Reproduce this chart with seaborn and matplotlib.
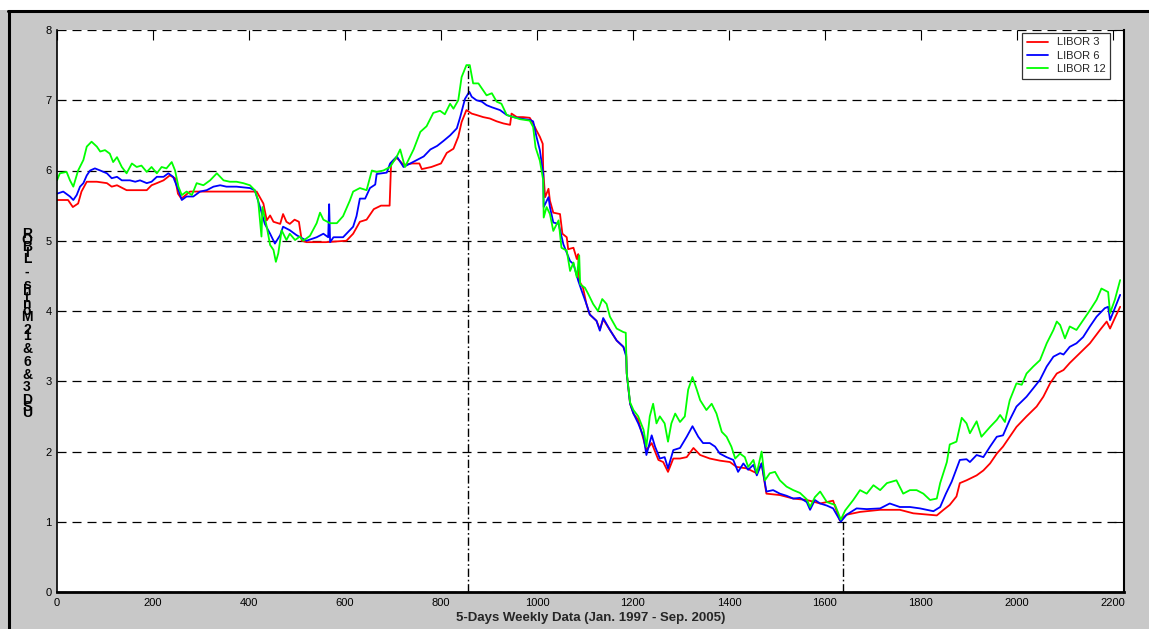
import matplotlib
matplotlib.use('Agg')
import matplotlib.pyplot as plt
import seaborn as sns
import pandas as pd
from matplotlib.lines import Line2D
from matplotlib.patches import Rectangle

# LIBOR series (x = day index, y = rate %)
red_x = [0, 23, 33, 44, 51, 62, 83, 104, 114, 125,
         145, 166, 187, 197, 208, 222, 235, 246, 252, 259,
         277, 416, 430, 437, 444, 451, 465, 471, 478, 485,
         495, 504, 510, 520, 560, 603, 617, 631, 645, 660,
         675, 693, 696, 708, 722, 740, 755, 760, 780, 800,
         812, 826, 836, 843, 853, 864, 874, 888, 902, 916,
         930, 944, 947, 958, 971, 985, 992, 999, 1006, 1012,
         1013, 1017, 1024, 1027, 1034, 1048, 1053, 1062, 1065, 1076,
         1083, 1086, 1088, 1096, 1103, 1110, 1124, 1131, 1138, 1152,
         1166, 1180, 1186, 1187, 1194, 1201, 1211, 1228, 1239, 1253,
         1263, 1273, 1284, 1298, 1312, 1326, 1340, 1360, 1381, 1402,
         1416, 1437, 1458, 1468, 1478, 1506, 1534, 1562, 1590, 1617,
         1631, 1645, 1673, 1715, 1756, 1784, 1833, 1847, 1860, 1874,
         1881, 1895, 1916, 1930, 1944, 1958, 1971, 1985, 1999, 2020,
         2041, 2055, 2069, 2083, 2097, 2110, 2131, 2152, 2173, 2187,
         2194, 2204, 2215]
red_y = [5.58, 5.58, 5.48, 5.53, 5.70, 5.84, 5.84, 5.82, 5.77, 5.79,
         5.72, 5.72, 5.72, 5.79, 5.82, 5.86, 5.93, 5.89, 5.67, 5.60,
         5.70, 5.70, 5.53, 5.29, 5.36, 5.27, 5.24, 5.38, 5.27, 5.24,
         5.30, 5.27, 5.00, 4.98, 4.98, 5.00, 5.10, 5.27, 5.30, 5.45,
         5.50, 5.50, 6.10, 6.18, 6.08, 6.10, 6.10, 6.02, 6.05, 6.10,
         6.25, 6.31, 6.48, 6.69, 6.86, 6.81, 6.79, 6.76, 6.74, 6.70,
         6.67, 6.65, 6.81, 6.76, 6.76, 6.75, 6.67, 6.57, 6.48, 6.38,
         6.00, 5.62, 5.74, 5.57, 5.40, 5.38, 5.10, 5.05, 4.88, 4.90,
         4.74, 4.81, 4.43, 4.33, 4.10, 3.95, 3.86, 3.74, 3.88, 3.73,
         3.58, 3.49, 3.38, 3.11, 2.68, 2.54, 2.45, 2.02, 2.12, 1.88,
         1.85, 1.71, 1.90, 1.90, 1.92, 2.05, 1.95, 1.90, 1.87, 1.85,
         1.78, 1.76, 1.69, 1.83, 1.40, 1.38, 1.33, 1.31, 1.26, 1.30,
         1.02, 1.10, 1.14, 1.17, 1.17, 1.12, 1.09, 1.17, 1.24, 1.36,
         1.55, 1.59, 1.66, 1.73, 1.83, 1.97, 2.07, 2.21, 2.35, 2.50,
         2.64, 2.78, 2.97, 3.11, 3.16, 3.26, 3.40, 3.54, 3.73, 3.85,
         3.75, 3.90, 4.06]

blue_x = [0, 13, 27, 34, 41, 48, 55, 62, 69, 79,
          90, 104, 114, 125, 135, 152, 163, 173, 187, 197,
          208, 222, 232, 242, 253, 260, 270, 284, 298, 312,
          326, 340, 353, 374, 402, 412, 423, 433, 444, 454,
          465, 471, 485, 499, 520, 541, 555, 565, 567, 569,
          576, 596, 603, 617, 624, 631, 642, 652, 663, 666,
          687, 694, 708, 722, 736, 750, 764, 778, 792, 805,
          819, 833, 840, 850, 859, 864, 874, 885, 895, 906,
          923, 937, 951, 965, 985, 992, 999, 1006, 1013, 1014,
          1024, 1027, 1034, 1045, 1055, 1069, 1076, 1086, 1093, 1103,
          1110, 1124, 1131, 1138, 1152, 1166, 1180, 1186, 1187, 1194,
          1201, 1211, 1222, 1228, 1239, 1246, 1256, 1266, 1273, 1284,
          1298, 1312, 1324, 1336, 1346, 1360, 1371, 1381, 1395, 1409,
          1419, 1430, 1440, 1451, 1458, 1468, 1478, 1492, 1506, 1520,
          1534, 1548, 1562, 1569, 1579, 1590, 1604, 1617, 1633, 1645,
          1666, 1687, 1715, 1735, 1756, 1777, 1798, 1826, 1840, 1852,
          1864, 1881, 1895, 1902, 1916, 1930, 1944, 1958, 1971, 1985,
          1999, 2020, 2034, 2048, 2062, 2076, 2090, 2097, 2110, 2124,
          2138, 2152, 2166, 2183, 2190, 2194, 2204, 2215]
blue_y = [5.67, 5.70, 5.63, 5.58, 5.65, 5.77, 5.82, 5.93, 6.00, 6.03,
          6.00, 5.96, 5.89, 5.91, 5.86, 5.86, 5.84, 5.86, 5.82, 5.84,
          5.91, 5.91, 5.96, 5.91, 5.72, 5.58, 5.63, 5.63, 5.70, 5.72,
          5.77, 5.79, 5.77, 5.77, 5.75, 5.72, 5.48, 5.24, 5.10, 4.96,
          5.08, 5.20, 5.15, 5.08, 5.00, 5.05, 5.10, 5.05, 5.52, 4.98,
          5.05, 5.05, 5.10, 5.20, 5.35, 5.60, 5.60, 5.75, 5.80, 5.95,
          5.97, 6.10, 6.20, 6.05, 6.10, 6.15, 6.20, 6.30, 6.35, 6.42,
          6.50, 6.60, 6.76, 7.02, 7.12, 7.05, 7.00, 6.98, 6.93, 6.90,
          6.86, 6.79, 6.76, 6.74, 6.72, 6.70, 6.48, 6.29, 5.95, 5.48,
          5.62, 5.48, 5.26, 5.24, 4.95, 4.71, 4.67, 4.43, 4.29, 4.10,
          3.95, 3.86, 3.72, 3.90, 3.73, 3.58, 3.49, 3.35, 3.11, 2.68,
          2.54, 2.40, 2.21, 1.95, 2.23, 2.07, 1.90, 1.92, 1.76, 2.02,
          2.05, 2.21, 2.36, 2.21, 2.12, 2.12, 2.07, 1.97, 1.92, 1.88,
          1.71, 1.83, 1.74, 1.81, 1.66, 1.83, 1.43, 1.45, 1.40, 1.37,
          1.33, 1.34, 1.28, 1.17, 1.31, 1.26, 1.23, 1.19, 1.00, 1.10,
          1.19, 1.18, 1.19, 1.26, 1.21, 1.21, 1.19, 1.15, 1.21, 1.40,
          1.57, 1.88, 1.89, 1.85, 1.95, 1.92, 2.07, 2.21, 2.23, 2.45,
          2.64, 2.78, 2.90, 3.02, 3.21, 3.35, 3.40, 3.38, 3.49, 3.54,
          3.63, 3.78, 3.92, 4.04, 4.06, 3.87, 4.04, 4.23]

green_x = [0, 6, 20, 27, 34, 44, 55, 62, 72, 83,
           90, 100, 110, 117, 125, 135, 145, 156, 166, 176,
           187, 197, 208, 218, 228, 239, 246, 253, 260, 270,
           281, 291, 305, 319, 333, 347, 360, 374, 388, 402,
           412, 419, 426, 428, 437, 444, 451, 456, 461, 468,
           478, 485, 496, 506, 513, 527, 541, 548, 555, 569,
           583, 596, 610, 617, 631, 645, 656, 666, 680, 694,
           708, 715, 725, 743, 757, 770, 784, 798, 808, 819,
           826, 836, 843, 853, 860, 867, 878, 888, 895, 906,
           916, 926, 937, 951, 965, 985, 992, 997, 1006, 1013,
           1014, 1020, 1027, 1034, 1045, 1051, 1062, 1069, 1076, 1083,
           1088, 1090, 1100, 1107, 1117, 1127, 1136, 1145, 1152, 1166,
           1180, 1185, 1187, 1194, 1201, 1211, 1222, 1228, 1235, 1242,
           1249, 1256, 1266, 1273, 1280, 1288, 1298, 1308, 1315, 1324,
           1333, 1340, 1353, 1364, 1374, 1385, 1395, 1405, 1413, 1423,
           1433, 1440, 1451, 1458, 1468, 1475, 1485, 1496, 1506, 1520,
           1534, 1548, 1562, 1569, 1579, 1590, 1604, 1621, 1633, 1642,
           1659, 1673, 1687, 1701, 1715, 1729, 1749, 1763, 1777, 1791,
           1805, 1819, 1833, 1840, 1854, 1860, 1874, 1885, 1895, 1902,
           1916, 1926, 1944, 1958, 1965, 1975, 1985, 1999, 2010, 2020,
           2034, 2048, 2062, 2076, 2083, 2090, 2100, 2110, 2124, 2138,
           2152, 2166, 2176, 2190, 2194, 2204, 2215]
green_y = [5.86, 5.96, 5.98, 5.86, 5.77, 6.00, 6.15, 6.34, 6.41, 6.34,
           6.27, 6.29, 6.24, 6.12, 6.19, 6.05, 5.96, 6.10, 6.05, 6.07,
           5.98, 6.05, 5.96, 6.05, 6.03, 6.12, 6.00, 5.77, 5.65, 5.70,
           5.65, 5.82, 5.79, 5.86, 5.96, 5.86, 5.84, 5.84, 5.82, 5.79,
           5.72, 5.58, 5.06, 5.48, 5.20, 4.94, 4.87, 4.70, 4.82, 5.15,
           5.01, 5.10, 5.01, 5.06, 5.00, 5.07, 5.25, 5.40, 5.30, 5.25,
           5.25, 5.35, 5.57, 5.70, 5.75, 5.72, 6.00, 5.98, 6.00, 6.05,
           6.20, 6.30, 6.05, 6.30, 6.55, 6.63, 6.82, 6.85, 6.80, 6.95,
           6.88, 7.00, 7.33, 7.50, 7.50, 7.24, 7.24, 7.14, 7.07, 7.10,
           6.98, 6.95, 6.79, 6.76, 6.73, 6.71, 6.62, 6.33, 6.14, 5.86,
           5.33, 5.48, 5.38, 5.14, 5.29, 4.90, 4.86, 4.57, 4.69, 4.48,
           4.79, 4.38, 4.33, 4.24, 4.10, 4.00, 4.17, 4.10, 3.92, 3.75,
           3.70, 3.69, 3.12, 2.70, 2.59, 2.50, 2.31, 2.07, 2.50, 2.68,
           2.40, 2.50, 2.40, 2.14, 2.40, 2.54, 2.42, 2.50, 2.88, 3.06,
           2.88, 2.73, 2.59, 2.68, 2.54, 2.28, 2.21, 2.07, 1.90, 1.97,
           1.92, 1.78, 1.88, 1.69, 2.00, 1.59, 1.69, 1.71, 1.59, 1.50,
           1.45, 1.41, 1.32, 1.21, 1.35, 1.43, 1.28, 1.24, 1.03, 1.16,
           1.31, 1.45, 1.40, 1.52, 1.45, 1.55, 1.59, 1.40, 1.45, 1.45,
           1.40, 1.31, 1.33, 1.55, 1.85, 2.10, 2.14, 2.48, 2.40, 2.26,
           2.43, 2.21, 2.35, 2.45, 2.52, 2.42, 2.73, 2.97, 2.95, 3.11,
           3.21, 3.30, 3.54, 3.73, 3.85, 3.80, 3.61, 3.78, 3.73, 3.87,
           4.01, 4.16, 4.32, 4.27, 3.97, 4.16, 4.44]

# dash-dot markers at the maximum and minimum
peak_x, peak_y = 857, 7.5
trough_x, trough_y = 1638, 1.0

series_names = ['LIBOR 3', 'LIBOR 6', 'LIBOR 12']
colors = {'LIBOR 3': '#ff0000', 'LIBOR 6': '#0000ff', 'LIBOR 12': '#00ff00'}
x_ticks = list(range(0, 2201, 200))
y_ticks = list(range(0, 9))
ylabel_text = "USD 3 & 6 & 12 Months - LIBOR"
xlabel_text = "5-Days Weekly Data (Jan. 1997 - Sep. 2005)"

sns.set_style('white')
plt.rcParams['font.family'] = ['Liberation Sans Narrow', 'Liberation Sans', 'DejaVu Sans']
plt.rcParams['lines.scale_dashes'] = False

df = pd.concat([
    pd.DataFrame({'day': red_x, 'rate': red_y, 'series': 'LIBOR 3'}),
    pd.DataFrame({'day': blue_x, 'rate': blue_y, 'series': 'LIBOR 6'}),
    pd.DataFrame({'day': green_x, 'rate': green_y, 'series': 'LIBOR 12'}),
], ignore_index=True)

W, H = 1149, 629
fig = plt.figure(figsize=(W / 100, H / 100), dpi=100, facecolor='#c8c8c8')

# window frame
fig.add_artist(Rectangle((0, 1 - 10 / H), 1, 10 / H, transform=fig.transFigure,
                         facecolor='white', edgecolor='none'))
fig.add_artist(Line2D([8 / W, 1], [1 - 11 / H, 1 - 11 / H], transform=fig.transFigure,
                      color='black', lw=2.2))
fig.add_artist(Line2D([9 / W, 9 / W], [0, 1 - 11 / H], transform=fig.transFigure,
                      color='black', lw=2.2))

ax = fig.add_axes([57 / W, 37 / H, (1123.5 - 57) / W, (592 - 30) / H])
ax.set_facecolor('white')

sns.lineplot(data=df, x='day', y='rate', hue='series', hue_order=series_names,
             palette=colors, estimator=None, lw=1.3, ax=ax)

ax.vlines(peak_x, 0, peak_y, colors='black', lw=1.0, linestyles=[(0, (6, 2, 1.2, 2))])
ax.vlines(trough_x, 0, trough_y, colors='black', lw=1.0, linestyles=[(0, (6, 2, 1.2, 2))])

ax.set_xlim(0, 2222)
ax.set_ylim(0, 8)
ax.set_xticks(x_ticks)
ax.set_yticks(y_ticks)
ax.yaxis.grid(True, color='black', lw=0.9, linestyle=(0, (6.5, 4.3)))
ax.xaxis.grid(False)
ax.tick_params(direction='in', top=True, right=True, length=7, width=0.8,
               labelsize=8, colors='black')
ax.tick_params(axis='x', pad=4)
ax.tick_params(axis='y', pad=4)

for side in ['left', 'right', 'bottom']:
    ax.spines[side].set_color('black')
ax.spines['top'].set_visible(False)
ax.spines['bottom'].set_linewidth(2.0)
ax.spines['left'].set_linewidth(1.2)
ax.spines['right'].set_linewidth(1.5)

ax.set_xlabel(xlabel_text, fontsize=9.5, fontweight='bold', labelpad=3)
ax.set_ylabel('')

# the y label in the original is drawn as upright glyphs stacked bottom to top
for i, ch in enumerate(ylabel_text):
    py = 413 - i * 6.4
    fig.text(27 / W, 1 - py / H, ch, ha='center', va='center', fontsize=10,
             fontweight='bold', color='black')

handles, labels = ax.get_legend_handles_labels()
leg = ax.legend(handles, labels, loc='upper right',
                bbox_to_anchor=((1110 - 57) / (1123.5 - 57), (592 - 33) / (592 - 30)),
                borderaxespad=0, frameon=True, fancybox=False, edgecolor='black',
                fontsize=8, handlelength=1.9, labelspacing=0.3, borderpad=0.4,
                handletextpad=0.8)
leg.get_frame().set_linewidth(0.9)
for line in leg.get_lines():
    line.set_linewidth(1.3)

fig.savefig('out.png', dpi=100, facecolor=fig.get_facecolor())
